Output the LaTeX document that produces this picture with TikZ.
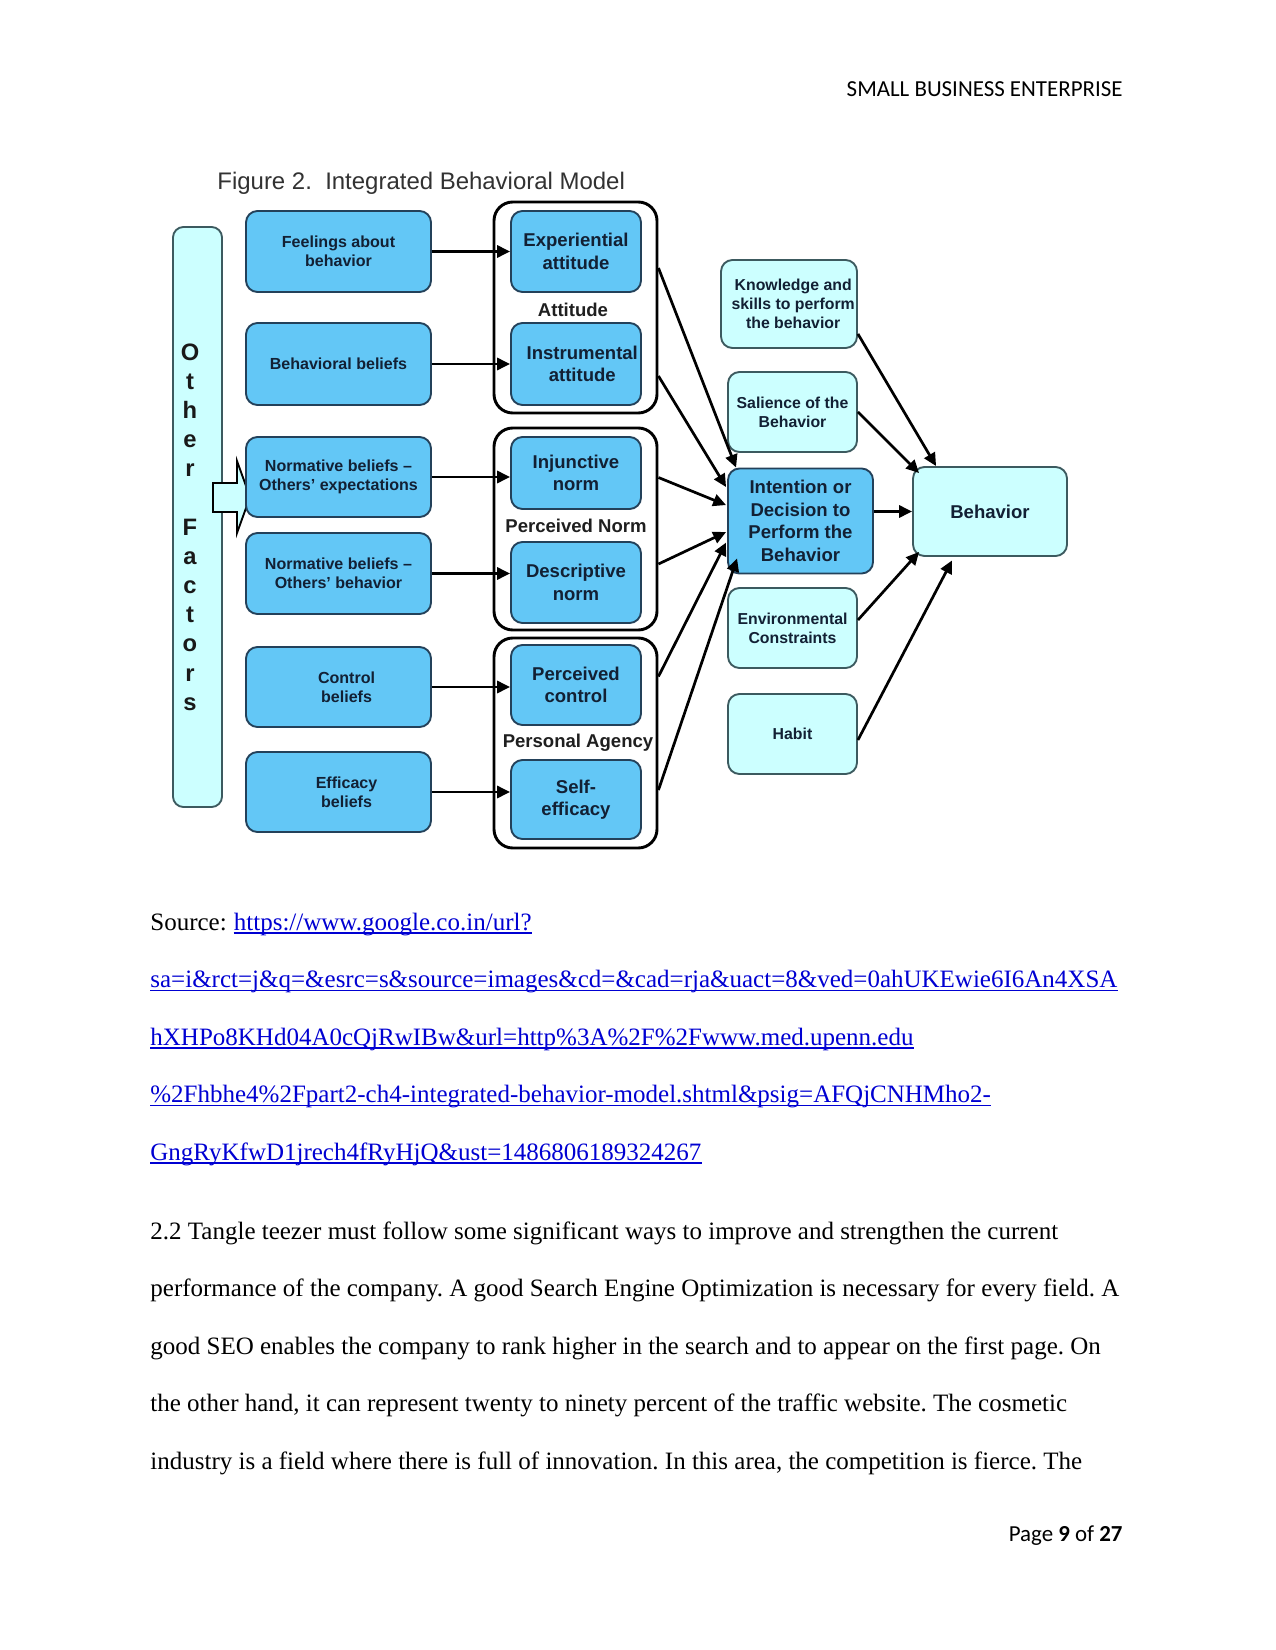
\documentclass[tikz,border=0pt]{standalone}
\usepackage{fontspec}
\setmainfont{Liberation Serif}
\newfontfamily\arialf{Liberation Sans}
\newfontfamily\calf{Carlito}
\usetikzlibrary{arrows.meta,calc}
\definecolor{boxblue}{RGB}{99,199,246}
\definecolor{boxblueedge}{RGB}{35,65,90}
\definecolor{lcyan}{RGB}{204,255,255}
\definecolor{lcyanedge}{RGB}{60,90,95}
\definecolor{boxtext}{RGB}{18,32,52}
\definecolor{linkblue}{RGB}{0,0,210}
\definecolor{titlegrey}{RGB}{50,50,50}
\frenchspacing
\begin{document}
\begin{tikzpicture}[x=0.48pt,y=-0.48pt,
  sz/.style 2 args={minimum width=#1*0.48pt,minimum height=#2*0.48pt},
  bbox/.style={draw=boxblueedge,fill=boxblue,line width=0.9pt,rounded corners=5.5pt,inner sep=0pt,align=center,text=boxtext},
  cbox/.style={draw=lcyanedge,fill=lcyan,line width=0.9pt,rounded corners=5.5pt,inner sep=0pt,align=center,text=boxtext},
  grp/.style={draw=black,fill=white,line width=1.4pt,rounded corners=9pt,inner sep=0pt},
  fsA/.style={font={\arialf\bfseries\fontsize{7.7pt}{9.2pt}\selectfont}},
  fsB/.style={font={\arialf\bfseries\fontsize{8.9pt}{10.8pt}\selectfont}},
  fsI/.style={font={\arialf\bfseries\fontsize{8.9pt}{10.8pt}\selectfont}},
  fsC/.style={font={\arialf\bfseries\fontsize{7.6pt}{9.2pt}\selectfont}},
  glabel/.style={inner sep=0pt,text=black!88,font={\arialf\bfseries\fontsize{8.9pt}{10.8pt}\selectfont}},
  arr/.style={draw=black,line width=1.3pt,-{Triangle[length=6.2pt,width=5.8pt]}},
  body/.style={anchor=base west,inner sep=0pt,font={\fontsize{12pt}{14pt}\selectfont}},
  lnk/.style={body,text=linkblue},
  uline/.style={draw=linkblue,line width=0.7pt}
]
\useasboundingbox (0,0) rectangle (1275,1650);
\fill[white] (0,0) rectangle (1275,1650);

% header and footer
\node[anchor=base east,inner sep=0pt,font={\calf\fontsize{11pt}{13pt}\selectfont}] (hdr) at (1123,97) {SMALL BUSINESS ENTERPRISE};
\node[anchor=base east,inner sep=0pt,font={\calf\fontsize{11pt}{13pt}\selectfont}] (ftr) at (1123,1541) {Page \textbf{9} of \textbf{27}};

% title
\node[anchor=base west,inner sep=0pt,text=titlegrey,font={\arialf\fontsize{11.5pt}{13pt}\selectfont}] (title) at (217,190) {Figure 2.\ \ Integrated Behavioral Model};

% group boxes
\node[grp,sz={163}{211}] (attg) at (575.5,307.5) {};
\node[grp,sz={163}{202}] (normg) at (575.5,529) {};
\node[grp,sz={163}{210}] (agency) at (575.5,743) {};

% inner boxes
\node[bbox,fsB,sz={130}{81}] (expa) at (576,251.5) {Experiential\\attitude};
\node[bbox,fsB,sz={130}{82}] (insa) at (576,364) {\hspace*{6pt}Instrumental\\\hspace*{6pt}attitude};
\node[bbox,fsB,sz={130}{72}] (inj) at (576,473) {Injunctive\\norm};
\node[bbox,fsB,sz={130}{81}] (desc) at (576,582.5) {Descriptive\\norm};
\node[bbox,fsB,sz={130}{80}] (pctl) at (576,685) {Perceived\\control};
\node[bbox,fsB,sz={130}{79}] (self) at (576,799.5) {Self-\\efficacy};

\node[glabel] (attl) at (573,310) {Attitude};
\node[glabel] (norml) at (576,526) {Perceived Norm};
\node[glabel] (agl) at (578,743) {Personal Agency};

% other factors
\node[cbox,sz={49}{580},rounded corners=5pt] (oth) at (197.5,517) {};
\node[inner sep=0pt,align=center,text=black!90,font={\arialf\bfseries\fontsize{11.4pt}{14pt}\selectfont}] (othtxt) at (190,527)
  {O\\t\\h\\e\\r\\[14pt]F\\a\\c\\t\\o\\r\\s};
\draw[draw=black,fill=lcyan,line width=0.9pt,line join=miter]
  (213,483) -- (237,483) -- (237,461) -- (250,497) -- (237,533) -- (237,512) -- (213,512) -- cycle;

% left boxes
\node[bbox,fsA,sz={185}{81}] (feel) at (338.5,251.5) {Feelings about\\behavior};
\node[bbox,fsA,sz={185}{82}] (bbel) at (338.5,364) {Behavioral beliefs};
\node[bbox,fsA,sz={185}{80}] (nexp) at (338.5,477) {Normative beliefs –\\Others’ expectations};
\node[bbox,fsA,sz={185}{81}] (nbeh) at (338.5,573.5) {Normative beliefs –\\Others’ behavior};
\node[bbox,fsA,sz={185}{80}] (ctrl) at (338.5,687) {\hspace*{7.7pt}Control\\\hspace*{7.7pt}beliefs};
\node[bbox,fsA,sz={185}{80}] (effi) at (338.5,792) {\hspace*{7.7pt}Efficacy\\\hspace*{7.7pt}beliefs};

% right boxes
\node[cbox,fsC,sz={136}{88}] (know) at (789,304) {\hspace*{4pt}Knowledge and\\\hspace*{4pt}skills to perform\\\hspace*{4pt}the behavior};
\node[cbox,fsC,sz={129}{80}] (sal) at (792.5,412) {Salience of the\\Behavior};
\node[bbox,fsI,sz={145}{105}] (intent) at (800.5,521) {Intention or\\Decision to\\Perform the\\Behavior};
\node[cbox,fsC,sz={129}{80}] (env) at (792.5,628) {Environmental\\Constraints};
\node[cbox,fsC,sz={129}{80}] (habit) at (792.5,734) {Habit};
\node[cbox,fsB,sz={154}{89}] (beh) at (990,511.5) {Behavior};

% arrows left -> middle
\draw[arr] (feel.east) -- (feel.east -| expa.west);
\draw[arr] (bbel.east) -- (bbel.east -| insa.west);
\draw[arr] (nexp.east) -- (nexp.east -| inj.west);
\draw[arr] (nbeh.east) -- (nbeh.east -| desc.west);
\draw[arr] (ctrl.east) -- (ctrl.east -| pctl.west);
\draw[arr] (effi.east) -- (effi.east -| self.west);

% arrows groups -> intention
\draw[arr] ($(attg.east)+(0,-39.5)$) -- ($(intent.north west)+(9,0)$);
\draw[arr] ($(attg.east)+(0,68.5)$) -- ($(intent.north west)+(-1,19.5)$);
\draw[arr] ($(normg.east)+(0,-51.5)$) -- ($(intent.north west)+(-1,37.5)$);
\draw[arr] ($(normg.east)+(0,35)$) -- ($(intent.north west)+(-1,64.5)$);
\draw[arr] ($(agency.east)+(0,-66.5)$) -- ($(intent.north west)+(-1,75)$);
\draw[arr] ($(agency.east)+(0,47)$) -- ($(intent.south west)+(10,-16)$);

% arrows -> behavior
\draw[arr] (intent.east |- beh.west) -- (beh.west);
\draw[arr] ($(know.south east)+(0,-15)$) -- ($(beh.north west)+(24,0)$);
\draw[arr] (sal.east) -- ($(beh.north west)+(7,7)$);
\draw[arr] ($(env.east)+(0,-8)$) -- ($(beh.south west)+(7,-5)$);
\draw[arr] ($(habit.east)+(0,6)$) -- ($(beh.south west)+(40,3.5)$);

% source text
\node[body] (srcl) at (150,930) {Source:};
\node[lnk] (u1) at (233.5,930) {https://www.google.co.in/url?};
\node[lnk] (u2) at (150,987.5) {sa=i\&rct=j\&q=\&esrc=s\&source=images\&cd=\&cad=rja\&uact=8\&ved=0ahUKEwie6I6An4XSA};
\node[lnk] (u3) at (150,1045) {hXHPo8KHd04A0cQjRwIBw\&url=http\%3A\%2F\%2Fwww.med.upenn.edu};
\node[lnk] (u4) at (150,1102.5) {\%2Fhbhe4\%2Fpart2-ch4-integrated-behavior-model.shtml\&psig=AFQjCNHMho2-};
\node[lnk] (u5) at (150,1160) {GngRyKfwD1jrech4fRyHjQ\&ust=1486806189324267};
\foreach \u in {u1,u2,u3,u4,u5}
  \draw[uline] ([yshift=-1.5pt]\u.base west) -- ([yshift=-1.5pt]\u.base east);

% body paragraph
\node[body] (b1) at (150,1239) {2.2 Tangle teezer must follow some significant ways to improve and strengthen the current};
\node[body] (b2) at (150,1296.5) {performance of the company. A good Search Engine Optimization is necessary for every field. A};
\node[body] (b3) at (150,1354) {good SEO enables the company to rank higher in the search and to appear on the first page. On};
\node[body] (b4) at (150,1411.5) {the other hand, it can represent twenty to ninety percent of the traffic website. The cosmetic};
\node[body] (b5) at (150,1469) {industry is a field where there is full of innovation. In this area, the competition is fierce. The};
\end{tikzpicture}
\end{document}
